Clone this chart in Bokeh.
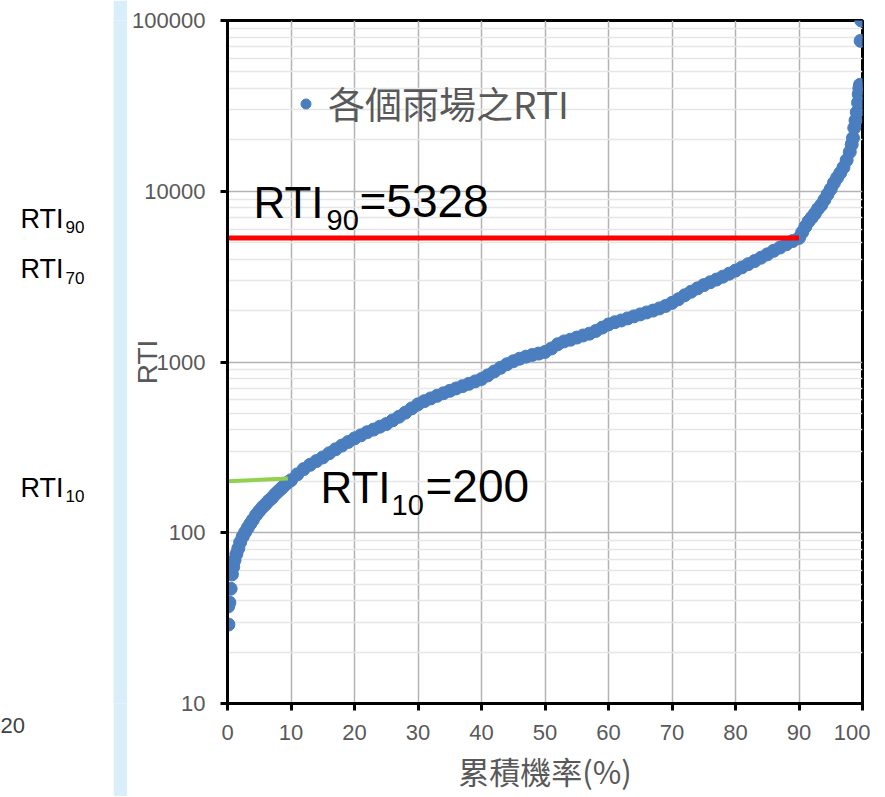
from bokeh.plotting import figure
from bokeh.layouts import row
from bokeh.models import (FixedTicker, NumeralTickFormatter, Label, Legend,
                          LegendItem, Title)
from bokeh.embed import file_html
from bokeh.resources import INLINE

# ---- data ----
cum_prob = [0.15, 0.1, 0.3, 0.5, 0.7, 0.9, 1.1, 1.4, 1.7, 2.0, 2.4, 2.8, 3.2, 3.6,
            4.0, 4.5, 5.0, 5.5, 6.0, 6.5, 7.0, 7.5, 8.0, 8.5, 9.0, 9.5,
            10, 11, 12, 13, 14, 15, 16, 17, 18, 19, 20, 21, 22, 23, 24, 25,
            26, 27, 28, 29, 30, 31, 32, 33, 34, 35, 36, 37, 38, 39, 40,
            41, 42, 43, 44, 45, 46, 47, 48, 49, 50, 51, 52, 53, 54, 55,
            56, 57, 58, 59, 60, 61, 62, 63, 64, 65, 66, 67, 68, 69, 70,
            71, 72, 73, 74, 75, 76, 77, 78, 79, 80, 81, 82, 83, 84, 85,
            86, 87, 88, 89, 90, 90.5, 91, 91.5, 92, 92.5, 93, 93.5, 94,
            94.5, 95, 95.5, 96, 96.5, 97, 97.5, 98, 98.3, 98.5, 98.7, 98.9,
            99.1, 99.3, 99.4, 99.5, 99.6, 99.7, 99.8]
rti = [29, 37, 39, 47, 57, 63, 69, 75, 81, 88, 95, 101, 107, 113,
       119, 127, 134, 141, 147, 154, 160, 168, 175, 182, 190, 197,
       203, 220, 236, 250, 263, 276, 292, 308, 324, 340, 357, 372, 388, 402, 418, 433,
       455, 478, 505, 535, 565, 590, 612, 634, 656, 678, 700, 722, 745, 770, 795,
       835, 880, 925, 970, 1010, 1045, 1075, 1100, 1120, 1145, 1200, 1270, 1320, 1350, 1390,
       1430, 1465, 1520, 1590, 1660, 1710, 1750, 1800, 1850, 1900, 1950, 2000, 2060, 2130, 2220,
       2330, 2460, 2580, 2700, 2820, 2930, 3040, 3160, 3290, 3430, 3580, 3740, 3900, 4080, 4270,
       4480, 4680, 4890, 5110, 5330, 5750, 6200, 6650, 7000, 7400, 7900, 8300, 8900,
       9600, 10300, 11200, 12000, 12800, 13800, 15200, 17000, 18800, 20500, 23500, 26000,
       29000, 33000, 37000, 40000, 42000, 76000, 100000]

x_ticks = [0, 10, 20, 30, 40, 50, 60, 70, 80, 90, 100]
y_ticks = [10, 100, 1000, 10000, 100000]

rti90_x = [0, 90]
rti90_y = [5328, 5328]
rti10_x = [0, 9.5]
rti10_y = [200, 208]

series_name = "各個雨場之RTI"
x_title = "累積機率(%)"
y_title = "RTI"

LATIN = "Liberation Sans"
CJK = "Noto Sans CJK TC"
GREY = "#595959"
STRIP = "#d8effa"

# ---- layout: texts of the underlying slide | light blue strip | the chart ----
TEXT_W = 113
STRIP_W = 14
TOTAL_H = 796
FL, FT, FW, FH = 227, 20, 635, 683      # frame box in page pixels
BASE_SHIFT = 0.37                      # correction for the alphabetic baseline (em)


def dx(px):
    return (px - FL) / FW * 100.0


def dy(py):
    return 10 ** (1 + (FT + FH - py) / (FH / 4.0))


left = figure(width=TEXT_W, height=TOTAL_H, x_range=(0, TEXT_W), y_range=(FT + FH, FT),
              output_backend="svg", toolbar_location=None, x_axis_type=None,
              y_axis_type=None, min_border=0, outline_line_color=None)
left.grid.visible = False


def llab(text, px, py, size, color="black"):
    left.add_layout(Label(x=px, y=py - BASE_SHIFT * size, x_units="canvas",
                          y_units="canvas", text=text, text_font=LATIN,
                          text_font_size=f"{size}px", text_color=color,
                          text_baseline="alphabetic"))


llab("RTI", 20, 228, 27)
llab("90", 65, 233, 17)
llab("RTI", 20, 278, 27)
llab("70", 65, 284, 17)
llab("RTI", 20, 497, 27)
llab("10", 65, 502, 17)
left.add_layout(Title(text="20", align="left", offset=0, standoff=25,
                      text_font=LATIN, text_font_size="22px",
                      text_font_style="normal", text_color="#404040"), "below")

strip = figure(width=STRIP_W, height=TOTAL_H, output_backend="svg",
               toolbar_location=None, x_axis_type=None, y_axis_type=None,
               min_border=0, outline_line_color=None,
               border_fill_color=STRIP, background_fill_color=STRIP)
strip.grid.visible = False

# main chart
p = figure(width=870 - TEXT_W - STRIP_W, height=TOTAL_H, x_range=(0, 100),
           y_range=(10, 100000), y_axis_type="log", output_backend="svg",
           toolbar_location=None,
           min_border_left=FL - TEXT_W - STRIP_W, min_border_right=870 - FL - FW,
           min_border_top=FT, min_border_bottom=TOTAL_H - FT - FH)
p.background_fill_color = "white"
p.border_fill_color = "white"
p.outline_line_color = "black"
p.outline_line_width = 3

minor_y = [m * t for t in y_ticks[:-1] for m in range(2, 10)]
p.yaxis.ticker = FixedTicker(ticks=y_ticks, minor_ticks=minor_y)
p.xaxis.ticker = FixedTicker(ticks=x_ticks)
p.yaxis.formatter = NumeralTickFormatter(format="0")

for ax in (p.xaxis[0], p.yaxis[0]):
    ax.axis_line_color = "black"
    ax.axis_line_width = 3
    ax.major_tick_line_color = "black"
    ax.major_tick_line_width = 3
    ax.major_tick_out = 7
    ax.major_tick_in = 0
    ax.minor_tick_line_color = None
    ax.major_label_text_font = LATIN
    ax.major_label_text_font_size = "22px"
    ax.major_label_text_color = GREY
    ax.axis_label_text_font_style = "normal"
    ax.axis_label_text_color = GREY

p.xaxis.major_label_standoff = 14
p.yaxis.major_label_standoff = 15

p.xaxis.axis_label = x_title
p.xaxis.axis_label_text_font = CJK
p.xaxis.axis_label_text_font_size = "31px"
p.xaxis.axis_label_standoff = 5
p.yaxis.axis_label = y_title
p.yaxis.axis_label_text_font = LATIN
p.yaxis.axis_label_text_font_size = "28px"
p.yaxis.axis_label_standoff = -34

p.xgrid.grid_line_color = "#b3b3b3"
p.xgrid.grid_line_width = 1.5
p.ygrid.grid_line_color = "#b3b3b3"
p.ygrid.grid_line_width = 1.5
p.ygrid.minor_grid_line_color = "#e6e6e6"
p.ygrid.minor_grid_line_width = 1.5

pts = p.scatter(cum_prob, rti, size=13, color="#4a7ebf", line_color="#4a7ebf")
p.line(rti90_x, rti90_y, line_color="#ff0000", line_width=5)
p.line(rti10_x, rti10_y, line_color="#92d050", line_width=4)

legend = Legend(items=[LegendItem(label=series_name, renderers=[pts])],
                location=(66, 573), padding=0, margin=0, spacing=0,
                glyph_width=25, glyph_height=25, label_standoff=10,
                border_line_color=None, background_fill_alpha=0,
                label_text_font=CJK, label_text_font_size="37px",
                label_text_color=GREY)
p.add_layout(legend)


def lab(text, px, py, size, color="black"):
    p.add_layout(Label(x=dx(px), y=dy(py - BASE_SHIFT * size), text=text, text_font=LATIN,
                       text_font_size=f"{size}px", text_color=color,
                       text_baseline="alphabetic"))


lab("RTI", 253, 218, 44)
lab("90", 326, 230, 29)
lab("=5328", 359, 218, 46)
lab("RTI", 320, 503, 44)
lab("10", 391, 515, 29)
lab("=200", 425, 503, 46)

layout = row(left, strip, p, spacing=0)
open("out.html", "w").write(file_html(layout, INLINE))
